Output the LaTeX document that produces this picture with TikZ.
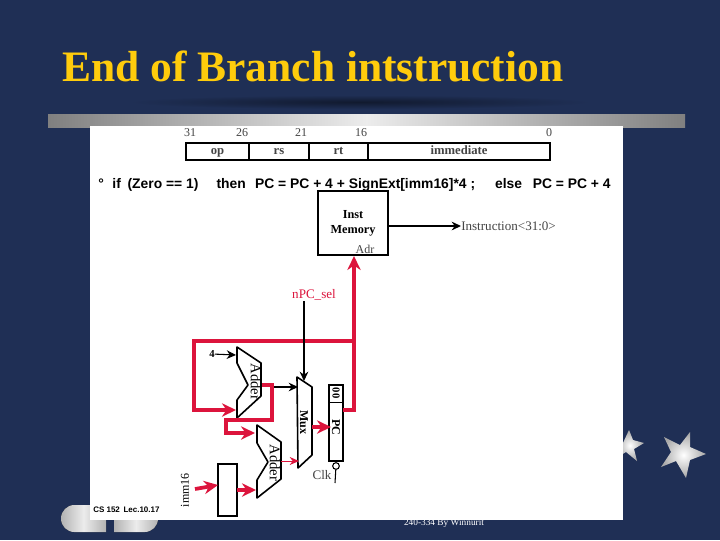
\documentclass[tikz,border=0pt]{standalone}
\usepackage{fontspec}
\setmainfont{Liberation Serif}
\setsansfont{Liberation Sans}
\usepackage{tikz}
\usetikzlibrary{arrows.meta,positioning}
\definecolor{slide}{HTML}{1F2F55}
\definecolor{titlegold}{HTML}{FFCC0C}
\definecolor{wire}{HTML}{DC143C}
\definecolor{faded}{HTML}{444444}

\begin{document}
\begin{tikzpicture}[
  x=0.75pt,
  y=-0.75pt,
  block/.style={
    draw,
    line width=1.2pt,
    inner sep=0pt,
    outer sep=0pt,
    align=center
  },
  field/.style={
    block,
    minimum height=12.75pt,
    text height=7pt,
    text depth=2pt,
    font=\fontsize{9.5}{10}\selectfont\bfseries\color{faded}
  },
  bitno/.style={font=\fontsize{9}{10}\selectfont\color{faded},inner sep=0pt},
  lbl/.style={font=\fontsize{9.8}{11}\selectfont\color{faded},inner sep=0pt},
  alu/.style={draw,line width=1.2pt,line join=round},
  vlabel/.style={font=\fontsize{11}{12}\selectfont,inner sep=0pt,rotate=-90},
  redarrow/.style={-{Stealth[length=10.5pt,width=10pt]},draw=wire,line width=2.8pt},
  thinred/.style={-{Stealth[length=7pt,width=6pt]},draw=wire,line width=0.7pt},
  blackarrow/.style={-{Stealth[length=7pt,width=6.5pt]},line width=0.8pt},
  starfill/.style={inner color=white,outer color=gray!70}
]

  % slide background
  \fill[slide] (0,0) rectangle (720,540);
  \useasboundingbox (0,0) rectangle (720,540);
  \node[font=\bfseries\fontsize{32.6}{33}\selectfont,text=titlegold,inner sep=0pt,anchor=west]
    (title) at (62,66) {End of Branch intstruction};
  \shade[inner color=black!45!slide,outer color=slide] (360,102) ellipse (230 and 7);
  \fill[left color=gray,right color=gray,middle color=gray!15] (48,114) rectangle (685,127);

  % slide decoration, partly behind the picture
  \fill[left color=gray!60,right color=gray!60,middle color=gray!15] (106,505)
    [rounded corners=10pt] -- (61,505) -- (61,532) [sharp corners] -- (106,532) -- cycle;
  \fill[left color=gray!60,right color=gray!60,middle color=gray!15] (114,505)
    [rounded corners=10pt] -- (158,505) -- (158,532) [sharp corners] -- (114,532) -- cycle;
  \shade[starfill] (629,430) -- (633,440) -- (644,443) -- (634,449) -- (637,461) -- (626,452) -- (616,458) -- cycle;
  \shade[starfill] (690,432) -- (690,447) -- (706,454) -- (690,460) -- (686,478) -- (676,461) -- (661,467) -- (671,452) -- (664,437) -- (680,445) -- cycle;
  \node[font=\scriptsize,text=white,inner sep=0pt] (credit) at (444,523) {240-334 By Winnurit};

  \fill[white] (90,126) rectangle (623,520);

  % instruction format
  \node[field,minimum width=47.25pt] (op) at (217.5,151.5) {op};
  \node[field,minimum width=45pt,right=0pt of op] (rs) {rs};
  \node[field,minimum width=44.25pt,right=0pt of rs] (rt) {rt};
  \node[field,minimum width=136.5pt,right=0pt of rt] (imm) {immediate};
  \node[bitno] (b31) at (190,133) {31};
  \node[bitno] (b26) at (242,133) {26};
  \node[bitno] (b21) at (301,133) {21};
  \node[bitno] (b16) at (361,133) {16};
  \node[bitno] (b0) at (549,133) {0};

  \node[font=\sffamily\bfseries\fontsize{10.4}{11}\selectfont,inner sep=0pt,anchor=west]
    (rule) at (98,184.5) {°\hspace{6.5pt}if\hspace{5pt}(Zero == 1)\hspace{13.5pt}then\hspace{7pt}PC = PC + 4 + SignExt[imm16]*4 ;\hspace{15pt}else\hspace{8pt}PC = PC + 4};

  % memory
  \node[block,minimum width=52.5pt,minimum height=48pt,font=\fontsize{9.2}{11}\selectfont\bfseries]
    (inst) at (353,223) {Inst\\Memory};
  \node[lbl,font=\fontsize{9}{10}\selectfont\color{faded}] (adr) at (365,249) {Adr};
  \node[lbl,anchor=west] (instr) at (461,226) {Instruction<31:0>};

  \node[lbl,text=wire,font=\fontsize{9.8}{11}\selectfont\color{wire}] (nsel) at (314,295) {nPC\_sel};
  \node[font=\footnotesize\bfseries,inner sep=0pt] (four) at (212,354) {4};
  \node[font=\small,inner sep=0pt,rotate=90] (imm16) at (185,490) {imm16};
  \node[lbl] (clk) at (322,475) {Clk};
  \node[font=\fontsize{6}{7}\selectfont\sffamily\bfseries,inner sep=0pt,anchor=west] (lec) at (93,510) {CS 152 \,Lec.10.17};

  % adders and mux
  \draw[alu] (237,347) -- (261,363) -- (261,396) -- (237,418) -- (237,400) -- (248,385) -- (237,363) -- cycle;
  \draw[alu] (257,425) -- (281,442) -- (281,479) -- (257,498) -- (257,480) -- (268,462) -- (257,443) -- cycle;
  \draw[alu] (297,377) -- (312,387) -- (312,455) -- (298,468) -- cycle;
  \node[vlabel] (adderA) at (256,382) {Adder};
  \node[vlabel] (adderB) at (275,463) {Adder};
  \node[vlabel,font=\small\bfseries] (mux) at (304,422) {Mux};

  % pc and sign extension
  \node[block,minimum width=10.5pt,minimum height=57pt] (pc) at (336,423) {};
  \node[vlabel,font=\small\bfseries] (pclab) at (336,427) {PC};
  \node[vlabel,font=\footnotesize\bfseries] (zeros) at (336,393) {00};
  \coordinate (pcl) at (329,402);
  \coordinate (pcr) at (343,402);
  \draw[line width=0.5pt] (pcl) -- (pcr);
  \node[block,minimum width=14.25pt,minimum height=39pt] (ext) at (227.5,490) {};
  \node[circle,draw,line width=0.8pt,minimum size=5pt,inner sep=0pt] (bubble) at (336,466) {};

  \coordinate (memin) at (354,256);
  \coordinate (loopa) at (354,341);
  \coordinate (loopb) at (194,341);
  \coordinate (loopc) at (194,410);
  \coordinate (addAin) at (236,410);
  \coordinate (pcout) at (354,410);
  \coordinate (fourin) at (236,355);
  \coordinate (addAout) at (262,385);
  \coordinate (tee) at (272,387);
  \coordinate (muxa) at (298,387);
  \coordinate (bendr) at (272,420);
  \coordinate (bendl) at (226,420);
  \coordinate (bendd) at (226,433);
  \coordinate (addBa) at (255,433);
  \coordinate (addBb) at (256,490);
  \coordinate (addBout) at (281,461);
  \coordinate (muxb) at (299,461);
  \coordinate (muxout) at (312,427);
  \coordinate (pcin) at (331,427);
  \coordinate (extin) at (218,485);
  \coordinate (extfree) at (195,489);
  \coordinate (extout) at (237,490);
  \coordinate (selfree) at (304,301);
  \coordinate (muxsel) at (304,381);
  \coordinate (clkend) at (335,483);

  \draw[redarrow] (pcr |- pcout) -- (pcout) -- (memin);
  \draw[redarrow] (loopa) -- (loopb) -- (loopc) -- (addAin);
  \draw[blackarrow,line width=1pt] (inst.east |- instr) -- (instr.west);
  \draw[blackarrow] (four) -- (fourin);
  \draw[blackarrow] (selfree) -- (muxsel);
  \draw[blackarrow] (tee) -- (muxa);
  \draw[redarrow] (addAout) -- (tee |- addAout) -- (bendr) -- (bendl) -- (bendd) -- (addBa);
  \draw[thinred] (addBout) -- (muxb);
  \draw[redarrow] (muxout) -- (pcin);
  \draw[redarrow] (extfree) -- (extin);
  \draw[redarrow] (extout) -- (addBb);
  \draw[line width=0.8pt] (bubble) -- (clkend);

\end{tikzpicture}
\end{document}
